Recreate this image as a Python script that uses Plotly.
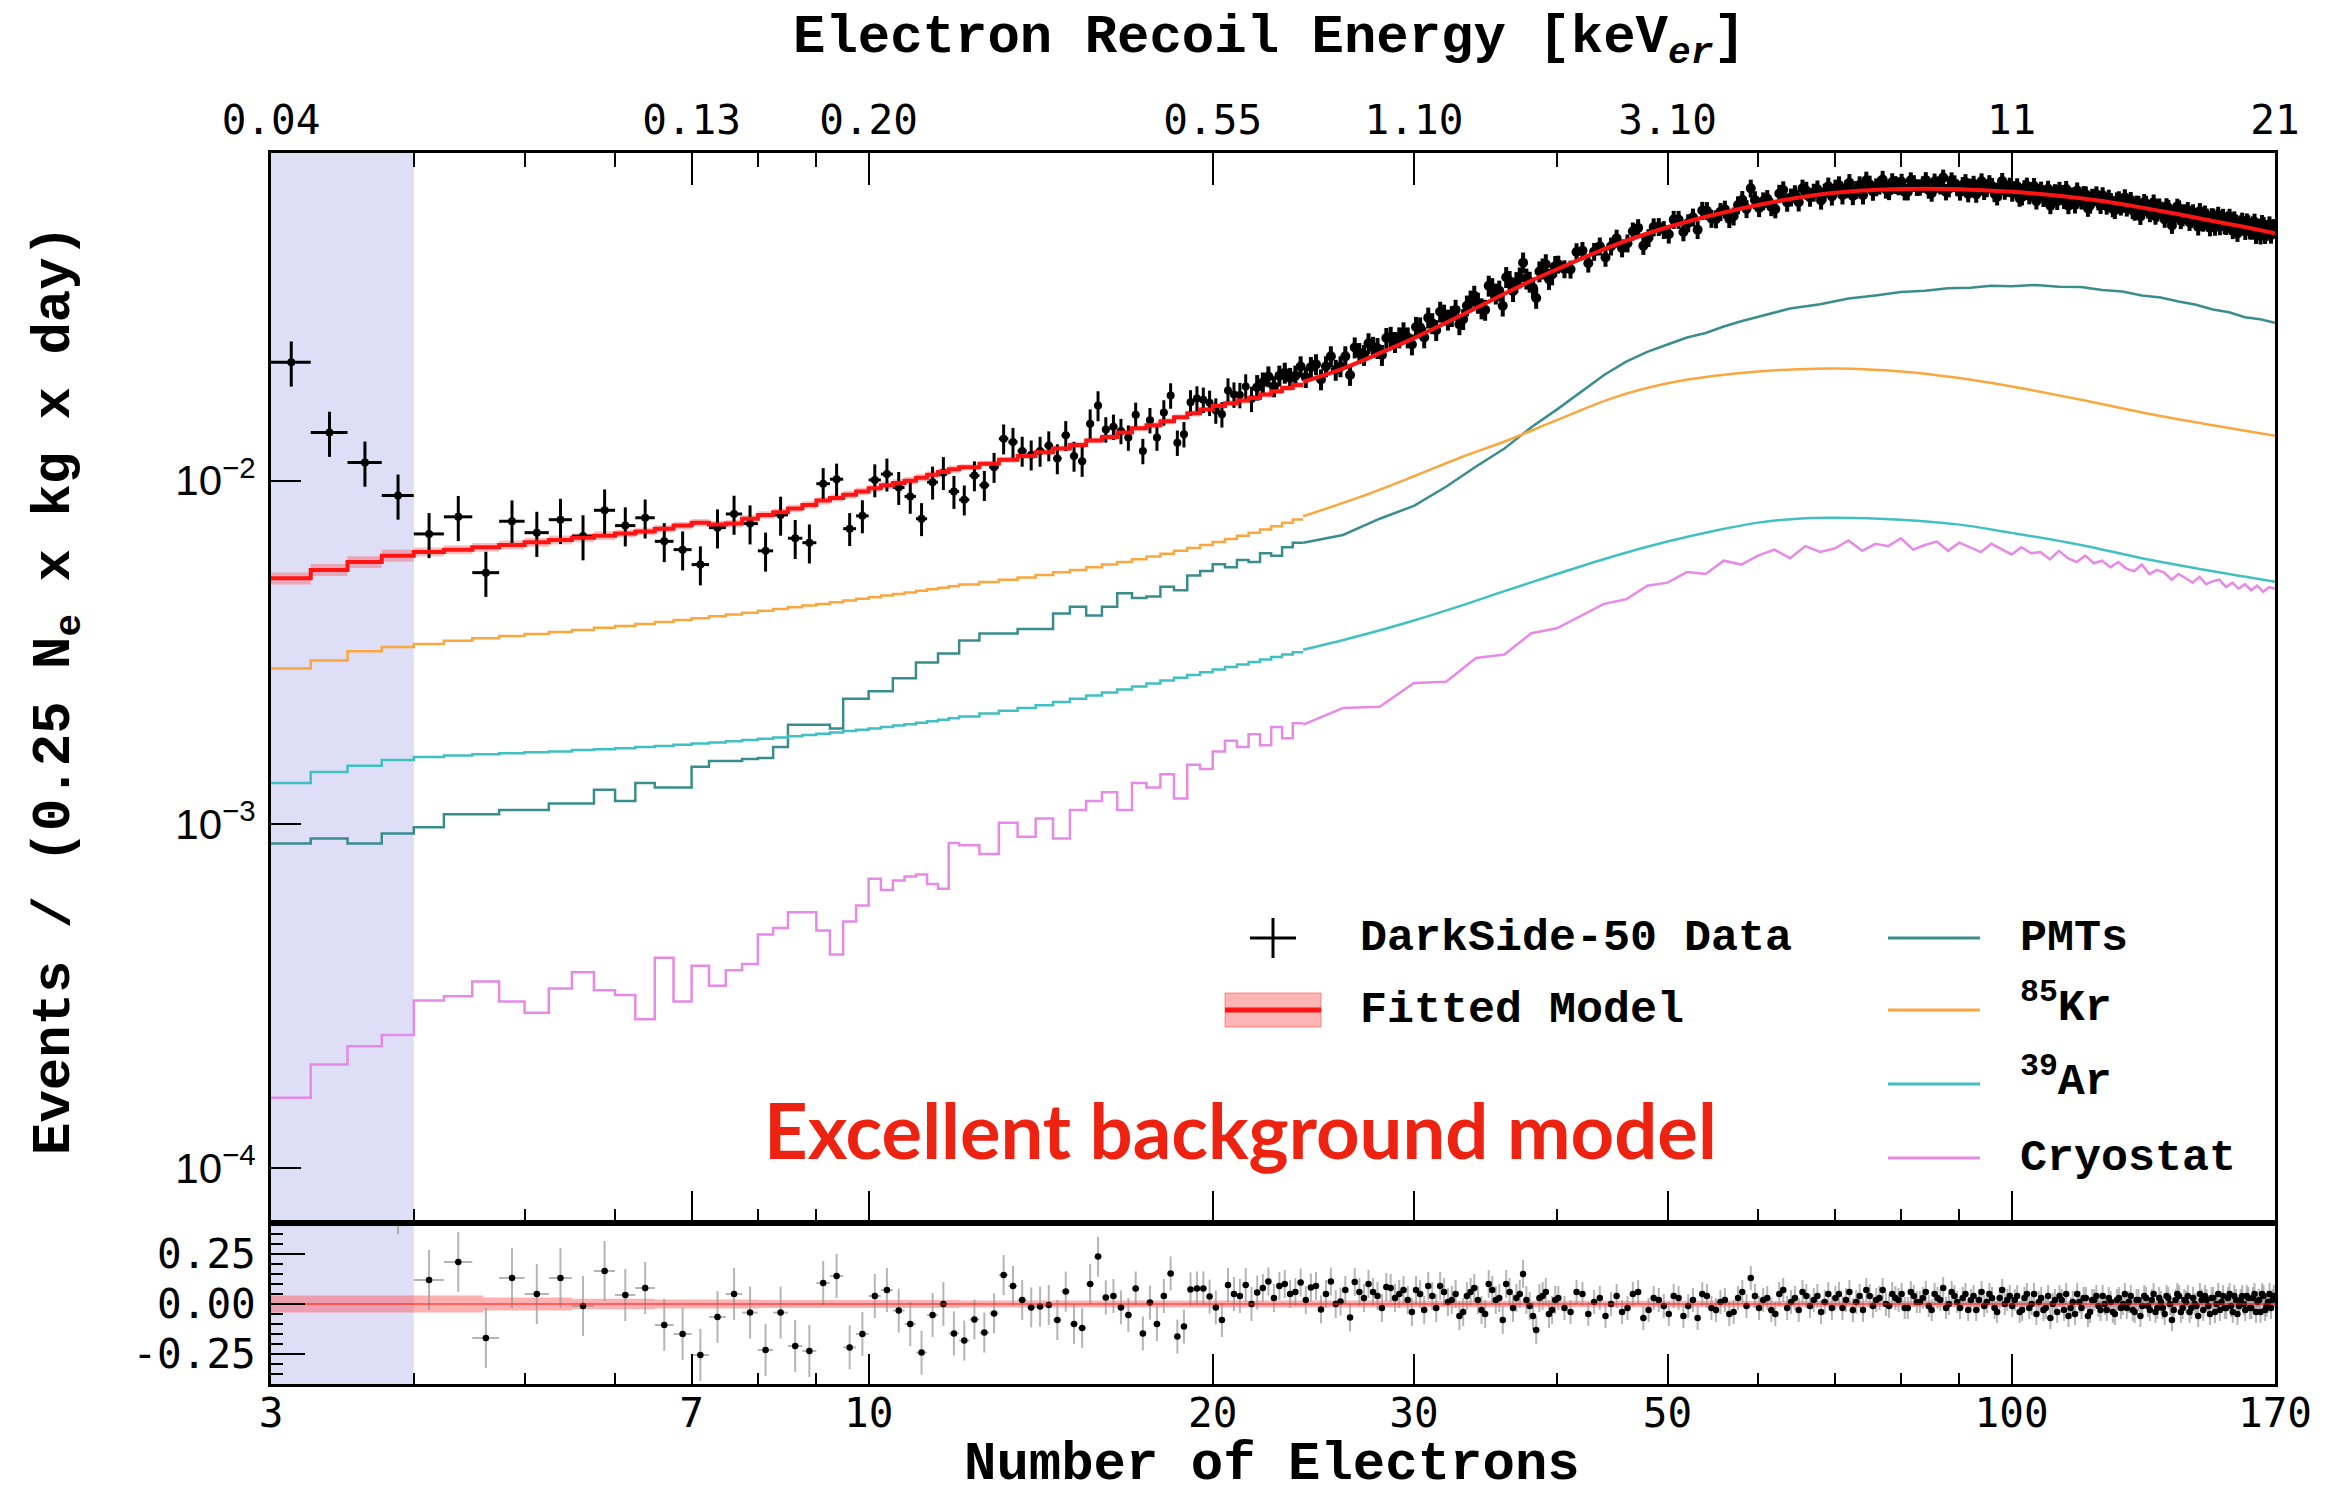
import numpy as np
import plotly.graph_objects as go

# ---------------- measured spectrum, 0.25 Ne bins (bin centres) ----------------
NE_FINE = np.arange(3.125, 21.7, 0.25)      # every bin
NE_MID = np.arange(21.875, 40.0, 0.5)       # every second bin
NE_MID2 = np.arange(22.125, 39.7, 0.5)      # the bins in between
NE_WIDE = np.arange(40.125, 169.2, 1.0)     # every fourth bin
NE_WIDE2 = np.arange(40.625, 169.7, 1.0)    # every fourth bin, offset by two

DATA_FINE = [
    0.0221, 0.0138, 0.0113, 0.00906, 0.00700, 0.00785, 0.00540, 0.00762, 0.00706, 0.00770,
    0.00690, 0.00820, 0.00740, 0.00780, 0.00666, 0.00630, 0.00570, 0.00730, 0.00800, 0.00750,
    0.00625, 0.00795, 0.00680, 0.00660, 0.00980, 0.01010, 0.00725, 0.00790, 0.01005, 0.01045,
    0.00955, 0.00900, 0.00775, 0.00990, 0.01055, 0.00930, 0.00880, 0.01035, 0.00970, 0.01095,
    0.01325, 0.01295, 0.01220, 0.01190, 0.01220, 0.01265, 0.01160, 0.01355, 0.01180, 0.01140,
    0.01465, 0.01655, 0.01410, 0.01435, 0.01395, 0.01335, 0.01555, 0.01220, 0.01500, 0.01335,
    0.01580, 0.01770, 0.01290, 0.01365, 0.01690, 0.01735, 0.01720, 0.01685, 0.01600, 0.01560,
    0.01830, 0.01780, 0.01775, 0.01880, 0.01730]
DATA_MID = [
    0.0187, 0.0201, 0.0202, 0.0199, 0.0215, 0.0214, 0.0197, 0.0230, 0.0215, 0.0203,
    0.0235, 0.0251, 0.0243, 0.0260, 0.0253, 0.0270, 0.0249, 0.0279, 0.0298, 0.0274,
    0.0304, 0.0301, 0.0285, 0.0323, 0.0345, 0.0317, 0.0369, 0.0350, 0.0323, 0.0381,
    0.0378, 0.0431, 0.0379, 0.0340, 0.0414, 0.0386, 0.0421]
DATA_MID2 = [
    0.0193, 0.0188, 0.0206, 0.0202, 0.0200, 0.0218, 0.0215, 0.0210, 0.0230, 0.0244,
    0.0232, 0.0245, 0.0232, 0.0262, 0.0261, 0.0261, 0.0280, 0.0261, 0.0287, 0.0310,
    0.0294, 0.0314, 0.0295, 0.0334, 0.0329, 0.0314, 0.0363, 0.0357, 0.0391, 0.0356,
    0.0390, 0.0387, 0.0364, 0.0406, 0.0426, 0.0398]
DATA_WIDE = [
    0.0426, 0.0412, 0.0467, 0.0464, 0.0446, 0.0507, 0.0491, 0.0544, 0.0509, 0.0548,
    0.0521, 0.0575, 0.0562, 0.0537, 0.0610, 0.0577, 0.0616, 0.0588, 0.0657, 0.0709,
    0.0622, 0.0661, 0.0617, 0.0701, 0.0668, 0.0646, 0.0699, 0.0690, 0.0654, 0.0719,
    0.0709, 0.0677, 0.0736, 0.0703, 0.0677, 0.0728, 0.0715, 0.0752, 0.0697, 0.0726,
    0.0741, 0.0692, 0.0734, 0.0714, 0.0749, 0.0686, 0.0728, 0.0762, 0.0706, 0.0733,
    0.0691, 0.0739, 0.0717, 0.0681, 0.0743, 0.0707, 0.0720, 0.0669, 0.0745, 0.0708,
    0.0686, 0.0719, 0.0669, 0.0722, 0.0687, 0.0651, 0.0703, 0.0667, 0.0631, 0.0691,
    0.0702, 0.0653, 0.0631, 0.0676, 0.0699, 0.0651, 0.0681, 0.0633, 0.0669, 0.0647,
    0.0677, 0.0629, 0.0651, 0.0611, 0.0659, 0.0637, 0.0621, 0.0656, 0.0604, 0.0639,
    0.0617, 0.0639, 0.0598, 0.0645, 0.0600, 0.0615, 0.0576, 0.0622, 0.0553, 0.0611,
    0.0620, 0.0581, 0.0597, 0.0564, 0.0604, 0.0577, 0.0609, 0.0561, 0.0587, 0.0544,
    0.0587, 0.0568, 0.0548, 0.0586, 0.0549, 0.0586, 0.0534, 0.0564, 0.0545, 0.0571,
    0.0531, 0.0561, 0.0532, 0.0567, 0.0543, 0.0515, 0.0555, 0.0527, 0.0557, 0.0538]
DATA_WIDE2 = [
    0.0413, 0.0463, 0.0429, 0.0481, 0.0481, 0.0475, 0.0532, 0.0483, 0.0547, 0.0537,
    0.0575, 0.0529, 0.0584, 0.0611, 0.0579, 0.0606, 0.0578, 0.0634, 0.0618, 0.0656,
    0.0651, 0.0626, 0.0685, 0.0645, 0.0683, 0.0709, 0.0667, 0.0705, 0.0690, 0.0672,
    0.0725, 0.0706, 0.0674, 0.0725, 0.0748, 0.0694, 0.0723, 0.0704, 0.0740, 0.0720,
    0.0692, 0.0748, 0.0713, 0.0728, 0.0700, 0.0742, 0.0720, 0.0692, 0.0748, 0.0712,
    0.0725, 0.0683, 0.0731, 0.0716, 0.0694, 0.0734, 0.0684, 0.0718, 0.0695, 0.0722,
    0.0706, 0.0663, 0.0710, 0.0674, 0.0720, 0.0691, 0.0662, 0.0707, 0.0678, 0.0649,
    0.0687, 0.0706, 0.0657, 0.0634, 0.0672, 0.0682, 0.0620, 0.0670, 0.0681, 0.0632,
    0.0650, 0.0666, 0.0618, 0.0654, 0.0625, 0.0668, 0.0639, 0.0611, 0.0640, 0.0587,
    0.0647, 0.0613, 0.0628, 0.0588, 0.0628, 0.0596, 0.0629, 0.0602, 0.0582, 0.0627,
    0.0571, 0.0604, 0.0613, 0.0575, 0.0584, 0.0547, 0.0591, 0.0599, 0.0568, 0.0588,
    0.0546, 0.0594, 0.0570, 0.0551, 0.0576, 0.0551, 0.0576, 0.0524, 0.0561, 0.0548,
    0.0568, 0.0533, 0.0557, 0.0517, 0.0548, 0.0562, 0.0517, 0.0536, 0.0518, 0.0547]

# fractional residuals (data - model) / model, same bins
RESID_FINE = [
    3.25, 1.51, 0.95, 0.50, 0.12, 0.21, -0.17, 0.13, 0.05, 0.13,
    -0.01, 0.165, 0.045, 0.08, -0.105, -0.15, -0.255, -0.065, 0.05, -0.043,
    -0.23, -0.043, -0.21, -0.235, 0.105, 0.14, -0.217, -0.15, 0.04, 0.07,
    -0.033, -0.10, -0.243, -0.055, 0.0, -0.147, -0.183, -0.077, -0.143, -0.047,
    0.145, 0.09, 0.02, -0.017, -0.013, -0.005, -0.08, 0.062, -0.10, -0.12,
    0.10, 0.237, 0.033, 0.04, -0.017, -0.055, 0.078, -0.147, 0.007, -0.10,
    0.04, 0.153, -0.163, -0.113, 0.073, 0.078, 0.078, 0.037, -0.017, -0.08,
    0.095, 0.05, 0.04, 0.095, 0.0]
RESID_MID = [
    0.057, 0.112, 0.09, 0.05, 0.107, 0.082, -0.027, 0.112, 0.012, -0.067,
    0.06, 0.10, 0.04, 0.085, 0.03, 0.07, -0.04, 0.05, 0.09, -0.02,
    0.06, 0.02, -0.06, 0.04, 0.08, -0.03, 0.10, 0.02, -0.08, 0.06,
    0.03, 0.15, -0.01, -0.13, 0.04, -0.05, 0.02]
RESID_MID2 = [
    0.08, 0.03, 0.10, 0.06, 0.02, 0.09, 0.05, 0.00, 0.07, 0.11,
    0.03, 0.06, -0.02, 0.08, 0.05, 0.02, 0.07, -0.03, 0.04, 0.09,
    0.01, 0.05, -0.04, 0.06, 0.02, -0.05, 0.07, 0.03, 0.10, -0.02,
    0.05, 0.02, -0.06, 0.03, 0.06, -0.03]
RESID_WIDE = [
    0.03, -0.04, 0.05, 0.01, -0.06, 0.04, -0.02, 0.06, -0.03, 0.02,
    -0.05, 0.03, -0.01, -0.07, 0.04, -0.03, 0.02, -0.04, 0.06, 0.13,
    -0.02, 0.03, -0.05, 0.07, 0.01, -0.03, 0.04, 0.02, -0.04, 0.05,
    0.03, -0.02, 0.06, 0.01, -0.03, 0.04, 0.02, 0.07, -0.01, 0.03,
    0.05, -0.02, 0.04, 0.01, 0.06, -0.03, 0.03, 0.08, 0.00, 0.04,
    -0.02, 0.05, 0.02, -0.03, 0.06, 0.01, 0.03, -0.04, 0.07, 0.02,
    -0.01, 0.04, -0.03, 0.05, 0.00, -0.05, 0.03, -0.02, -0.07, 0.02,
    0.04, -0.03, -0.06, 0.01, 0.05, -0.02, 0.03, -0.04, 0.02, -0.01,
    0.04, -0.03, 0.01, -0.05, 0.03, 0.00, -0.02, 0.04, -0.04, 0.02,
    -0.01, 0.03, -0.03, 0.05, -0.02, 0.01, -0.05, 0.03, -0.08, 0.02,
    0.04, -0.02, 0.01, -0.04, 0.03, -0.01, 0.05, -0.03, 0.02, -0.05,
    0.03, 0.00, -0.03, 0.04, -0.02, 0.05, -0.04, 0.02, -0.01, 0.04,
    -0.03, 0.03, -0.02, 0.05, 0.01, -0.04, 0.04, -0.01, 0.05, 0.02]
RESID_WIDE2 = [
    -0.02, 0.06, -0.05, 0.03, 0.00, -0.04, 0.05, -0.07, 0.03, -0.01,
    0.04, -0.06, 0.02, 0.05, -0.02, 0.01, -0.05, 0.03, -0.01, 0.04,
    0.02, -0.03, 0.05, -0.02, 0.03, 0.06, -0.01, 0.04, 0.01, -0.02,
    0.05, 0.02, -0.03, 0.04, 0.07, -0.01, 0.03, 0.00, 0.05, 0.02,
    -0.02, 0.06, 0.01, 0.03, -0.01, 0.05, 0.02, -0.02, 0.06, 0.01,
    0.03, -0.03, 0.04, 0.02, -0.01, 0.05, -0.02, 0.03, 0.00, 0.04,
    0.02, -0.04, 0.03, -0.02, 0.05, 0.01, -0.03, 0.04, 0.00, -0.04,
    0.02, 0.05, -0.02, -0.05, 0.01, 0.03, -0.06, 0.02, 0.04, -0.03,
    0.00, 0.03, -0.04, 0.02, -0.02, 0.05, 0.01, -0.03, 0.02, -0.06,
    0.04, -0.01, 0.02, -0.04, 0.03, -0.02, 0.04, 0.00, -0.03, 0.05,
    -0.04, 0.02, 0.04, -0.02, 0.00, -0.06, 0.02, 0.04, -0.01, 0.03,
    -0.04, 0.05, 0.01, -0.02, 0.03, -0.01, 0.04, -0.05, 0.02, 0.00,
    0.04, -0.02, 0.03, -0.04, 0.02, 0.05, -0.03, 0.01, -0.02, 0.04]

# relative statistical error, piecewise in Ne
ERR_EDGES = [3, 6, 9, 12, 16, 22, 40, 80]
ERR_REL = [0.15, 0.13, 0.11, 0.10, 0.085, 0.07, 0.06, 0.055]

# ---------------- model histograms ----------------
# stepped part: 0.25 Ne bins from 3 to 12, 0.5 Ne bins from 12 to 24
EDGES = np.concatenate([np.arange(3.0, 12.0, 0.25), np.arange(12.0, 24.01, 0.5)])

FIT_LO = [
    5.20e-3, 5.50e-3, 5.80e-3, 6.05e-3, 6.20e-3, 6.30e-3, 6.40e-3, 6.50e-3, 6.62e-3, 6.72e-3,
    6.82e-3, 6.92e-3, 7.02e-3, 7.12e-3, 7.25e-3, 7.40e-3, 7.55e-3, 7.45e-3, 7.50e-3, 7.75e-3,
    7.95e-3, 8.10e-3, 8.30e-3, 8.50e-3, 8.75e-3, 8.90e-3, 9.10e-3, 9.30e-3, 9.50e-3, 9.70e-3,
    9.85e-3, 1.00e-2, 1.02e-2, 1.04e-2, 1.06e-2, 1.08e-2,
    1.095e-2, 1.12e-2, 1.15e-2, 1.18e-2, 1.21e-2, 1.24e-2, 1.27e-2, 1.31e-2, 1.34e-2, 1.38e-2,
    1.42e-2, 1.45e-2, 1.49e-2, 1.53e-2, 1.57e-2, 1.61e-2, 1.65e-2, 1.68e-2, 1.71e-2, 1.74e-2,
    1.78e-2, 1.82e-2, 1.86e-2, 1.90e-2]
PMT_LO = [
    8.8e-4, 9.1e-4, 8.8e-4, 9.4e-4, 9.8e-4, 1.07e-3, 1.07e-3, 1.10e-3, 1.10e-3, 1.15e-3,
    1.15e-3, 1.26e-3, 1.17e-3, 1.32e-3, 1.28e-3, 1.28e-3, 1.47e-3, 1.53e-3, 1.53e-3, 1.55e-3,
    1.56e-3, 1.68e-3, 1.95e-3, 1.95e-3, 1.95e-3, 1.90e-3, 2.32e-3, 2.32e-3, 2.44e-3, 2.44e-3,
    2.66e-3, 2.66e-3, 2.96e-3, 2.96e-3, 3.14e-3, 3.14e-3,
    3.43e-3, 3.59e-3, 3.59e-3, 3.70e-3, 3.70e-3, 4.11e-3, 4.30e-3, 4.05e-3, 4.30e-3, 4.70e-3,
    4.56e-3, 4.60e-3, 4.91e-3, 4.80e-3, 5.30e-3, 5.46e-3, 5.71e-3, 5.60e-3, 5.88e-3, 5.80e-3,
    6.15e-3, 6.05e-3, 6.40e-3, 6.60e-3]
KR_LO = [
    2.84e-3, 3.00e-3, 3.19e-3, 3.28e-3, 3.35e-3, 3.42e-3, 3.48e-3, 3.53e-3, 3.58e-3, 3.63e-3,
    3.68e-3, 3.73e-3, 3.78e-3, 3.83e-3, 3.88e-3, 3.93e-3, 3.98e-3, 4.03e-3, 4.08e-3, 4.13e-3,
    4.18e-3, 4.23e-3, 4.28e-3, 4.33e-3, 4.38e-3, 4.43e-3, 4.48e-3, 4.53e-3, 4.58e-3, 4.63e-3,
    4.68e-3, 4.73e-3, 4.78e-3, 4.83e-3, 4.88e-3, 4.93e-3,
    4.99e-3, 5.07e-3, 5.15e-3, 5.23e-3, 5.32e-3, 5.41e-3, 5.50e-3, 5.60e-3, 5.70e-3, 5.80e-3,
    5.91e-3, 6.02e-3, 6.13e-3, 6.25e-3, 6.37e-3, 6.50e-3, 6.63e-3, 6.77e-3, 6.91e-3, 7.06e-3,
    7.21e-3, 7.37e-3, 7.54e-3, 7.71e-3]
AR_LO = [
    1.32e-3, 1.42e-3, 1.48e-3, 1.54e-3, 1.57e-3, 1.585e-3, 1.60e-3, 1.61e-3, 1.62e-3, 1.63e-3,
    1.645e-3, 1.655e-3, 1.665e-3, 1.68e-3, 1.69e-3, 1.705e-3, 1.72e-3, 1.73e-3, 1.745e-3, 1.76e-3,
    1.775e-3, 1.79e-3, 1.805e-3, 1.82e-3, 1.835e-3, 1.85e-3, 1.87e-3, 1.885e-3, 1.90e-3, 1.92e-3,
    1.94e-3, 1.955e-3, 1.975e-3, 1.995e-3, 2.015e-3, 2.035e-3,
    2.06e-3, 2.10e-3, 2.14e-3, 2.18e-3, 2.22e-3, 2.27e-3, 2.32e-3, 2.37e-3, 2.42e-3, 2.47e-3,
    2.52e-3, 2.57e-3, 2.62e-3, 2.67e-3, 2.72e-3, 2.77e-3, 2.82e-3, 2.87e-3, 2.92e-3, 2.97e-3,
    3.02e-3, 3.07e-3, 3.12e-3, 3.17e-3]
CRYO_LO = [
    1.60e-4, 2.00e-4, 2.26e-4, 2.44e-4, 3.07e-4, 3.16e-4, 3.49e-4, 3.05e-4, 2.83e-4, 3.33e-4,
    3.71e-4, 3.29e-4, 3.19e-4, 2.71e-4, 4.09e-4, 3.05e-4, 3.88e-4, 3.39e-4, 3.76e-4, 3.92e-4,
    4.78e-4, 4.99e-4, 5.55e-4, 5.55e-4, 4.91e-4, 4.18e-4, 5.22e-4, 5.81e-4, 6.94e-4, 6.44e-4,
    6.87e-4, 7.05e-4, 7.15e-4, 6.70e-4, 6.50e-4, 8.82e-4,
    8.70e-4, 8.20e-4, 1.01e-3, 9.20e-4, 1.04e-3, 9.10e-4, 1.10e-3, 1.17e-3, 1.24e-3, 1.10e-3,
    1.32e-3, 1.28e-3, 1.40e-3, 1.19e-3, 1.49e-3, 1.45e-3, 1.63e-3, 1.75e-3, 1.68e-3, 1.83e-3,
    1.70e-3, 1.92e-3, 1.78e-3, 1.97e-3]

# upper range (24 - 170 Ne)
FIT_HI_NE = [24, 26, 28, 30, 32, 34, 36, 38, 40, 44, 48, 52, 56, 60, 65, 70, 75, 80,
             90, 100, 110, 120, 130, 140, 150, 160, 170]
FIT_HI = [0.0194, 0.0212, 0.0235, 0.0260, 0.0288, 0.0318, 0.0350, 0.0382, 0.0412, 0.0472,
          0.0524, 0.0567, 0.0603, 0.0634, 0.0666, 0.0688, 0.0700, 0.0706, 0.0705, 0.0693,
          0.0675, 0.0651, 0.0623, 0.0596, 0.0570, 0.0547, 0.0525]
SMOOTH_NE = [24, 27, 30, 33, 36, 40, 45, 50, 55, 60, 65, 70, 80, 90, 100, 115, 130, 150, 170]
KR_HI = [7.88e-3, 9.0e-3, 0.0103, 0.0117, 0.0130, 0.0150, 0.0175, 0.0192, 0.0202, 0.0208,
         0.0211, 0.0212, 0.0208, 0.0199, 0.0188, 0.0172, 0.0158, 0.0145, 0.0135]
AR_HI = [3.22e-3, 3.55e-3, 3.92e-3, 4.33e-3, 4.77e-3, 5.35e-3, 6.05e-3, 6.65e-3, 7.15e-3,
         7.55e-3, 7.75e-3, 7.80e-3, 7.70e-3, 7.45e-3, 7.05e-3, 6.50e-3, 5.95e-3, 5.45e-3, 5.08e-3]
PMT_HI_NE = [24, 26, 28, 30, 32, 34, 36, 38, 40, 42, 44, 46, 48, 50, 52, 54, 56, 58, 60,
             64, 68, 72, 76, 80, 84, 88, 92, 96, 100, 105, 110, 115, 120, 125, 130, 135,
             140, 145, 150, 155, 160, 165, 170]
PMT_HI = [6.6e-3, 6.95e-3, 7.75e-3, 8.45e-3, 9.6e-3, 1.10e-2, 1.24e-2, 1.43e-2, 1.61e-2,
          1.81e-2, 2.03e-2, 2.22e-2, 2.37e-2, 2.49e-2, 2.61e-2, 2.69e-2, 2.81e-2, 2.91e-2,
          3.00e-2, 3.17e-2, 3.26e-2, 3.39e-2, 3.46e-2, 3.54e-2, 3.57e-2, 3.63e-2, 3.64e-2,
          3.69e-2, 3.68e-2, 3.71e-2, 3.67e-2, 3.66e-2, 3.59e-2, 3.55e-2, 3.46e-2, 3.41e-2,
          3.32e-2, 3.25e-2, 3.15e-2, 3.09e-2, 2.99e-2, 2.95e-2, 2.88e-2]
CRYO_HI_NE = np.arange(24, 171, 2)
CRYO_HI = [
    1.95e-3, 2.18e-3, 2.20e-3, 2.58e-3, 2.60e-3, 3.05e-3, 3.12e-3, 3.60e-3, 3.72e-3, 4.05e-3,
    4.38e-3, 4.52e-3, 4.95e-3, 5.05e-3, 5.42e-3, 5.35e-3, 5.85e-3, 5.70e-3, 6.05e-3, 6.30e-3,
    5.95e-3, 6.45e-3, 6.20e-3, 6.35e-3, 6.70e-3, 6.25e-3, 6.55e-3, 6.45e-3, 6.80e-3, 6.30e-3,
    6.50e-3, 6.65e-3, 6.25e-3, 6.60e-3, 6.40e-3, 6.20e-3, 6.55e-3, 6.30e-3, 6.10e-3, 6.40e-3,
    6.15e-3, 6.20e-3, 5.90e-3, 6.25e-3, 5.95e-3, 5.80e-3, 6.05e-3, 5.75e-3, 5.85e-3, 5.60e-3,
    5.80e-3, 5.55e-3, 5.45e-3, 5.70e-3, 5.35e-3, 5.50e-3, 5.40e-3, 5.15e-3, 5.35e-3, 5.20e-3,
    5.05e-3, 5.25e-3, 5.00e-3, 5.10e-3, 5.15e-3, 4.90e-3, 5.05e-3, 4.85e-3, 5.00e-3, 4.80e-3,
    4.95e-3, 4.75e-3, 4.90e-3, 4.85e-3]

# fit uncertainty: relative half-width of the band on the model (main panel)
FIT_BAND_EDGES = [3, 4, 6, 12, 24]
FIT_BAND_REL = [0.04, 0.03, 0.025, 0.02, 0.015]
# fit uncertainty on the residual panel (absolute half-width)
RES_BAND_EDGES = [3, 4.6, 5.5, 6.5, 8, 12, 30, 60, 170]
RES_BAND_HALF = [0.042, 0.032, 0.026, 0.022, 0.02, 0.018, 0.016, 0.015]

# axis labels
TICK_NE = [3, 7, 10, 20, 30, 50, 100, 170]
TICK_NE_TEXT = ["3", "7", "10", "20", "30", "50", "100", "170"]
TICK_KEV_TEXT = ["0.04", "0.13", "0.20", "0.55", "1.10", "3.10", "11", "21"]
MINOR_NE = [4, 5, 6, 8, 9, 40, 60, 70, 80, 90]
THRESHOLD_NE = [3, 4]   # excluded low-Ne region

COL_FIT = "#ff1414"
COL_PMT = "#3a8d8d"
COL_KR = "#f9a73e"
COL_AR = "#40c0c0"
COL_CRYO = "#e68ae6"
COL_BAND = "rgba(255,40,40,0.30)"
COL_SHADE = "rgb(222,222,247)"

MONO = "Liberation Mono, Courier New, monospace"
TICKFONT = dict(family="DejaVu Sans Mono, Liberation Mono, monospace", size=41, color="black")


def lookup(x, edges, vals):
    idx = np.searchsorted(np.asarray(edges, float), np.asarray(x, float), side="right") - 1
    idx = np.clip(idx, 0, len(vals) - 1)
    return np.asarray(vals, float)[idx]


def hist_y(vals):
    return list(vals) + [vals[-1]]


ne_fine = np.asarray(NE_FINE)
data_fine = np.array(DATA_FINE)
ne_dense = np.concatenate([NE_MID, NE_MID2, NE_WIDE, NE_WIDE2])
data_dense = np.array(DATA_MID + DATA_MID2 + DATA_WIDE + DATA_WIDE2)
ne = np.concatenate([ne_fine, ne_dense])
resid = np.array(RESID_FINE + RESID_MID + RESID_MID2 + RESID_WIDE + RESID_WIDE2)
rel = lookup(ne, ERR_EDGES, ERR_REL)

fig = go.Figure()
MAIN = dict(xaxis="x2", yaxis="y2")
RES = dict(xaxis="x", yaxis="y")

# ---- fitted-model band (main panel) ----
fit_lo = np.array(FIT_LO)
band_lo = lookup(EDGES[:-1], FIT_BAND_EDGES, FIT_BAND_REL)
fig.add_trace(go.Scatter(x=EDGES, y=hist_y(fit_lo * (1 - band_lo)), mode="lines",
                         line=dict(width=0, shape="hv"), hoverinfo="skip", **MAIN))
fig.add_trace(go.Scatter(x=EDGES, y=hist_y(fit_lo * (1 + band_lo)), mode="lines",
                         line=dict(width=0, shape="hv"), fill="tonexty", fillcolor=COL_BAND,
                         hoverinfo="skip", **MAIN))
fit_hi = np.array(FIT_HI)
band_hi = lookup(FIT_HI_NE, FIT_BAND_EDGES, FIT_BAND_REL)
fig.add_trace(go.Scatter(x=FIT_HI_NE, y=fit_hi * (1 - band_hi), mode="lines",
                         line=dict(width=0, shape="spline"), hoverinfo="skip", **MAIN))
fig.add_trace(go.Scatter(x=FIT_HI_NE, y=fit_hi * (1 + band_hi), mode="lines",
                         line=dict(width=0, shape="spline"), fill="tonexty", fillcolor=COL_BAND,
                         hoverinfo="skip", **MAIN))

# ---- background components ----
components = [
    ("PMTs", PMT_LO, PMT_HI_NE, PMT_HI, COL_PMT, "linear"),
    ("85Kr", KR_LO, SMOOTH_NE, KR_HI, COL_KR, "spline"),
    ("39Ar", AR_LO, SMOOTH_NE, AR_HI, COL_AR, "spline"),
    ("Cryostat", CRYO_LO, CRYO_HI_NE, CRYO_HI, COL_CRYO, "linear"),
]
for name, lo, hx, hy, col, shp in components:
    fig.add_trace(go.Scatter(x=EDGES, y=hist_y(lo), mode="lines", name=name,
                             line=dict(color=col, width=2.5, shape="hv"), **MAIN))
    fig.add_trace(go.Scatter(x=hx, y=hy, mode="lines", name=name,
                             line=dict(color=col, width=2.5, shape=shp), **MAIN))

# ---- data ----
fig.add_trace(go.Scatter(
    x=ne_fine, y=data_fine, mode="markers", name="DarkSide-50 Data",
    marker=dict(size=8, color="black"),
    error_y=dict(type="data", array=data_fine * lookup(ne_fine, ERR_EDGES, ERR_REL),
                 color="black", thickness=3, width=0),
    error_x=dict(type="constant", value=0.125, color="black", thickness=3, width=0),
    **MAIN))
fig.add_trace(go.Scatter(
    x=ne_dense, y=data_dense, mode="markers", name="DarkSide-50 Data",
    marker=dict(size=10, color="black"),
    error_y=dict(type="data", array=data_dense * lookup(ne_dense, ERR_EDGES, ERR_REL),
                 color="black", thickness=4, width=0),
    error_x=dict(type="constant", value=0.125, color="black", thickness=3, width=0),
    **MAIN))

# ---- fitted model line ----
fig.add_trace(go.Scatter(x=EDGES, y=hist_y(FIT_LO), mode="lines", name="Fitted Model",
                         line=dict(color=COL_FIT, width=4, shape="hv"), **MAIN))
fig.add_trace(go.Scatter(x=FIT_HI_NE, y=FIT_HI, mode="lines",
                         line=dict(color=COL_FIT, width=4, shape="spline"), **MAIN))

# ---- residual panel ----
half = np.array(RES_BAND_HALF)
fig.add_trace(go.Scatter(x=RES_BAND_EDGES, y=hist_y(-half), mode="lines",
                         line=dict(width=0, shape="hv"), hoverinfo="skip", **RES))
fig.add_trace(go.Scatter(x=RES_BAND_EDGES, y=hist_y(half), mode="lines",
                         line=dict(width=0, shape="hv"), fill="tonexty",
                         fillcolor="rgba(255,70,70,0.42)", hoverinfo="skip", **RES))
fig.add_trace(go.Scatter(
    x=ne, y=resid, mode="markers",
    marker=dict(size=6.5, color="black"),
    error_y=dict(type="data", array=rel, color="rgba(150,150,150,0.7)", thickness=2, width=0),
    error_x=dict(type="constant", value=0.125, color="rgba(150,150,150,0.7)", thickness=2, width=0),
    **RES))
fig.add_trace(go.Scatter(x=[3, 170], y=[0, 0], mode="lines",
                         line=dict(color="rgba(255,30,30,0.55)", width=2), **RES))

# ---- excluded region shading ----
for xr, yr in (("x2", "y2 domain"), ("x", "y domain")):
    fig.add_shape(type="rect", xref=xr, yref=yr, x0=THRESHOLD_NE[0], x1=THRESHOLD_NE[1],
                  y0=0, y1=1, fillcolor=COL_SHADE, line=dict(width=0), layer="below")

# ---- geometry ----
W, H = 2335, 1492
L, R, T, B = 271, 60, 153, 108
PW, PH = W - L - R, H - T - B
SPLIT = 161 / PH


def px(xp):
    return (xp - L) / PW


def py(yp):
    return (H - B - yp) / PH


# ---- hand-placed legend ----
shapes = []
cx, cy = 1273, 938
shapes += [
    dict(type="line", xref="paper", yref="paper", x0=px(cx - 23), x1=px(cx + 23),
         y0=py(cy), y1=py(cy), line=dict(color="black", width=3)),
    dict(type="line", xref="paper", yref="paper", x0=px(cx), x1=px(cx),
         y0=py(cy - 20), y1=py(cy + 20), line=dict(color="black", width=3)),
    dict(type="rect", xref="paper", yref="paper", x0=px(1225), x1=px(1321),
         y0=py(1027), y1=py(993), fillcolor="rgba(255,60,60,0.38)",
         line=dict(color="rgba(255,80,80,0.6)", width=1)),
    dict(type="line", xref="paper", yref="paper", x0=px(1225), x1=px(1321),
         y0=py(1010), y1=py(1010), line=dict(color=COL_FIT, width=5)),
]
for yy, col in ((938, COL_PMT), (1010, COL_KR), (1084, COL_AR), (1158, COL_CRYO)):
    shapes.append(dict(type="line", xref="paper", yref="paper", x0=px(1888), x1=px(1980),
                       y0=py(yy), y1=py(yy), line=dict(color=col, width=3)))
for s in shapes:
    fig.add_shape(**s)

LEGFONT = dict(family=MONO, size=45, color="black", weight="bold")
ann = []
for txt, xx, yy in (("DarkSide-50 Data", 1358, 938), ("Fitted Model", 1358, 1010),
                    ("PMTs", 2018, 938), ("<sup>85</sup>Kr", 2018, 1004),
                    ("<sup>39</sup>Ar", 2018, 1078), ("Cryostat", 2018, 1158)):
    ann.append(dict(text=txt, x=px(xx), y=py(yy), xref="paper", yref="paper",
                    xanchor="left", yanchor="middle", showarrow=False, font=LEGFONT))

TITLEFONT = dict(family=MONO, size=54, color="black", weight="bold")
ann += [
    dict(text="Electron Recoil Energy [keV<sub><i>er</i></sub>]", x=px(1269), y=py(40),
         xref="paper", yref="paper", xanchor="center", yanchor="middle",
         showarrow=False, font=TITLEFONT),
    dict(text="Number of Electrons", x=px(1272), y=py(1464), xref="paper", yref="paper",
         xanchor="center", yanchor="middle", showarrow=False, font=TITLEFONT),
    dict(text="Events / (0.25 N<sub>e</sub> x kg x day)", x=px(57), y=py(690),
         xref="paper", yref="paper", xanchor="center", yanchor="middle", textangle=-90,
         showarrow=False, font=TITLEFONT),
    dict(text="Excellent background model", x=px(1240), y=py(1129), xref="paper",
         yref="paper", xanchor="center", yanchor="middle", showarrow=False,
         font=dict(family="Lato, Open Sans, sans-serif", size=76, color="#ee2211",
                   weight="bold")),
]

XR = [np.log10(3), np.log10(170)]
axis_common = dict(showline=True, linecolor="black", linewidth=3, showgrid=False,
                   zeroline=False, ticks="inside", tickcolor="black", tickwidth=2)

fig.update_layout(
    width=W, height=H, margin=dict(l=L, r=R, t=T, b=B),
    paper_bgcolor="white", plot_bgcolor="white", showlegend=False,
    annotations=ann,
    xaxis=dict(**axis_common, type="log", range=XR, domain=[0, 1], anchor="y",
               tickmode="array", tickvals=TICK_NE, ticktext=TICK_NE_TEXT, ticklen=30,
               minor=dict(tickmode="array", tickvals=MINOR_NE, ticklen=11, ticks="inside",
                          tickcolor="black", tickwidth=2),
               mirror=True, tickfont=TICKFONT, ticklabelstandoff=-9),
    xaxis2=dict(**axis_common, type="log", range=XR, domain=[0, 1], anchor="y2",
                side="top", matches="x",
                tickmode="array", tickvals=TICK_NE, ticktext=TICK_KEV_TEXT, ticklen=32,
                minor=dict(tickmode="array", tickvals=MINOR_NE, ticklen=14, ticks="inside",
                           tickcolor="black", tickwidth=2),
                mirror="ticks", tickfont=TICKFONT, ticklabelstandoff=0),
    yaxis=dict(**axis_common, domain=[0, SPLIT], anchor="x", range=[-0.40, 0.405],
               tickmode="array", tickvals=[-0.25, 0, 0.25],
               ticktext=["-0.25", "0.00", "0.25"], ticklen=34,
               minor=dict(tickmode="array",
                          tickvals=[-0.35, -0.3, -0.2, -0.15, -0.1, -0.05, 0.05, 0.1, 0.15,
                                    0.2, 0.3, 0.35, 0.4],
                          ticklen=12, ticks="inside", tickcolor="black", tickwidth=2),
               mirror=True, tickfont=TICKFONT, ticklabelstandoff=4),
    yaxis2=dict(**axis_common, type="log", domain=[SPLIT, 1], anchor="x2",
                range=[-4.16, -1.0465], tickmode="array", tickvals=[1e-4, 1e-3, 1e-2],
                ticktext=["10<sup>\u22124</sup>", "10<sup>\u22123</sup>", "10<sup>\u22122</sup>"],
                ticklen=30, mirror=True, ticklabelstandoff=4,
                tickfont=dict(family="Liberation Sans, Arial, sans-serif", size=42,
                              color="black")),
)

fig.write_html("out.html")
